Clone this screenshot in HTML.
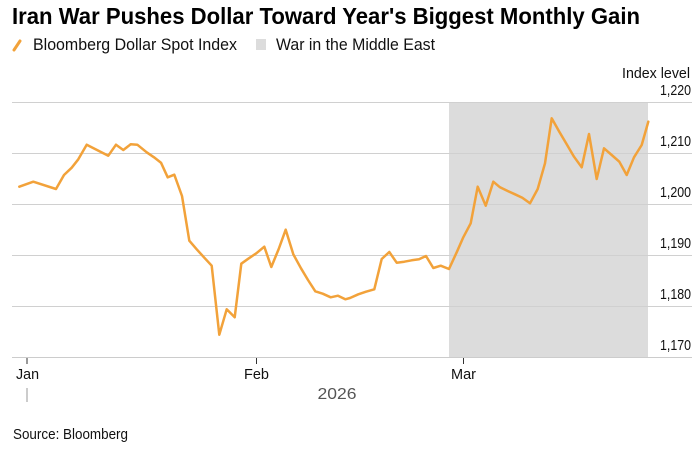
<!DOCTYPE html>
<html><head><meta charset="utf-8">
<style>
html,body{margin:0;padding:0;background:#fff;}
svg{display:block;}
text{font-family:"Liberation Sans",Arial,sans-serif;}
</style></head>
<body>
<svg width="699" height="451" viewBox="0 0 699 451" xmlns="http://www.w3.org/2000/svg">
<rect x="0" y="0" width="699" height="451" fill="#fff"/>
<text x="12" y="24" font-size="23" font-weight="bold" fill="#000" textLength="628" lengthAdjust="spacingAndGlyphs">Iran War Pushes Dollar Toward Year's Biggest Monthly Gain</text>
<line x1="14" y1="50" x2="20" y2="41" stroke="#F2A23A" stroke-width="3" stroke-linecap="round"/>
<text x="33" y="50" font-size="16.5" fill="#111" textLength="204" lengthAdjust="spacingAndGlyphs">Bloomberg Dollar Spot Index</text>
<rect x="256" y="39" width="10" height="11" fill="#dcdcdc"/>
<text x="276" y="50" font-size="16.5" fill="#111" textLength="159" lengthAdjust="spacingAndGlyphs">War in the Middle East</text>
<text x="690" y="78" font-size="15" fill="#111" text-anchor="end" textLength="68" lengthAdjust="spacingAndGlyphs">Index level</text>
<rect x="449" y="102.5" width="199" height="255" fill="#dcdcdc"/>
<g stroke="#d0d0d0" stroke-width="1">
<line x1="12" y1="102.5" x2="692" y2="102.5"/>
<line x1="12" y1="153.5" x2="692" y2="153.5"/>
<line x1="12" y1="204.5" x2="692" y2="204.5"/>
<line x1="12" y1="255.5" x2="692" y2="255.5"/>
<line x1="12" y1="306.5" x2="692" y2="306.5"/>
</g>
<line x1="12" y1="357.5" x2="692" y2="357.5" stroke="#cccccc" stroke-width="1"/>
<g font-size="15" fill="#111" text-anchor="end">
<text x="691" y="95" textLength="31" lengthAdjust="spacingAndGlyphs">1,220</text>
<text x="691" y="146" textLength="31" lengthAdjust="spacingAndGlyphs">1,210</text>
<text x="691" y="197" textLength="31" lengthAdjust="spacingAndGlyphs">1,200</text>
<text x="691" y="248" textLength="31" lengthAdjust="spacingAndGlyphs">1,190</text>
<text x="691" y="299" textLength="31" lengthAdjust="spacingAndGlyphs">1,180</text>
<text x="691" y="350" textLength="31" lengthAdjust="spacingAndGlyphs">1,170</text>
</g>
<polyline fill="none" stroke="#F2A23A" stroke-width="2.5" stroke-linejoin="round" stroke-linecap="round" points="
19.3,186.7 33.3,181.7 56,189 64,175 71.7,167.7 78.3,159.3 86.7,144.7 108.3,155.7 116,144.7 123.3,150 130.7,144.3 137.3,144.7 146.7,152.3 154,157.3 161,162.7 167.7,177.3 174.3,174.7 182,196 189.3,240.7 196.7,249.3 204.3,257.7 211.7,265.7 219.3,334.7 226.7,309.3 234.7,317.3 241.3,263.7 248.3,258.7 256.3,253.3 264.3,246.7 271.3,267 278.7,249 285.7,229.7 293.3,254.3 301,268.3 308,280 315.3,291.3 322.7,293.7 330.7,297.3 338,295.7 345.3,299.3 350,298 358.3,294.3 366,291.7 374.3,289.3 381.7,259 389.3,252 396.7,262.7 404.3,261.7 411.7,260.3 419,259.3 426,256 433.3,268 440.7,265.7 449,269 456.7,252.3 463.3,237.3 470.7,223.3 477.7,186.7 485.7,205.7 493.3,181.7 500,187.3 507.7,191 515,194.3 522.3,197.7 530,203.3 537.7,189 545,163.3 551.7,118.3 559.3,131.7 566.7,144.3 574,156.7 581.7,167.3 589,134 596.7,179 604,148.3 611.7,155 619.3,161.7 626.7,175 634,157.3 641.7,145 648.3,121.7"/>
<g stroke="#333" stroke-width="1">
<line x1="27" y1="358" x2="27" y2="364"/>
<line x1="256.5" y1="358" x2="256.5" y2="364"/>
<line x1="463.5" y1="358" x2="463.5" y2="364"/>
</g>
<g font-size="15" fill="#111" text-anchor="middle">
<text x="27.5" y="379" textLength="23" lengthAdjust="spacingAndGlyphs">Jan</text>
<text x="256.5" y="379" textLength="25" lengthAdjust="spacingAndGlyphs">Feb</text>
<text x="463.5" y="379" textLength="25" lengthAdjust="spacingAndGlyphs">Mar</text>
</g>
<line x1="27" y1="388" x2="27" y2="402" stroke="#999" stroke-width="1"/>
<text x="337" y="399" font-size="16" fill="#555" text-anchor="middle" textLength="39" lengthAdjust="spacingAndGlyphs">2026</text>
<text x="13" y="439" font-size="14.5" fill="#111" textLength="115" lengthAdjust="spacingAndGlyphs">Source: Bloomberg</text>
</svg>
</body></html>
